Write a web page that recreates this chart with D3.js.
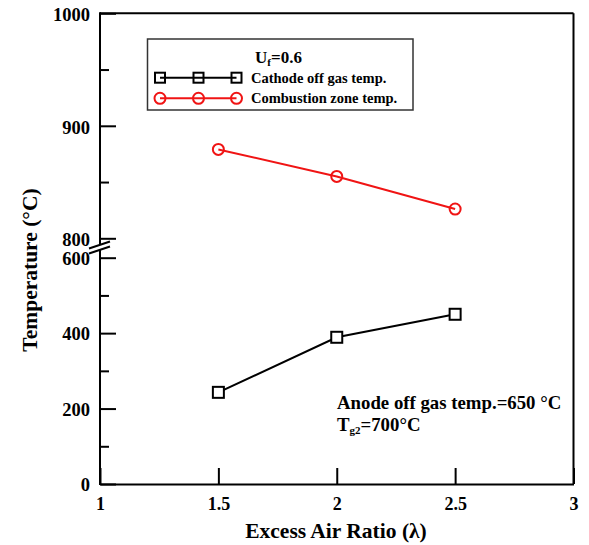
<!DOCTYPE html>
<html><head><meta charset="utf-8">
<script src="https://cdn.jsdelivr.net/npm/d3@7"></script>
<style>body{margin:0;background:#fff}svg{display:block}text{font-family:"Liberation Serif","Times New Roman",serif;font-weight:bold;fill:#000}</style>
</head><body>
<script>
const xValues = [1.5, 2.0, 2.5];
const cathodeTemp = [243, 389, 450];
const combustionTemp = [879, 855, 826];
const xTicks = [1, 1.5, 2, 2.5, 3];
const xTickLabels = ["1", "1.5", "2", "2.5", "3"];
const yUpperTicks = [800, 900, 1000];
const yUpperMinor = [850, 950];
const yLowerTicks = [0, 200, 400, 600];
const yLowerMinor = [100, 300, 500];

const W = 589, H = 545;
const svg = d3.select("body").append("svg").attr("width", W).attr("height", H);
const L = 100, R = 573.5, T = 13.3, B = 484;
const x = d3.scaleLinear().domain([1, 3]).range([L, R]);
const yU = d3.scaleLinear().domain([800, 1000]).range([238.3, T]);
const yL = d3.scaleLinear().domain([0, 600]).range([B, 257.7]);

const sw = 2;
// frame: top and right
svg.append("line").attr("x1", L).attr("x2", R).attr("y1", T).attr("y2", T).attr("stroke", "#000").attr("stroke-width", sw);
svg.append("line").attr("x1", R).attr("x2", R).attr("y1", T).attr("y2", B).attr("stroke", "#000").attr("stroke-width", sw);

// x axis
const xAxis = d3.axisBottom(x).tickValues(xTicks).tickFormat((d, i) => xTickLabels[i]).tickSizeInner(-16).tickSizeOuter(0).tickPadding(20);
const gx = svg.append("g").attr("transform", `translate(0,${B})`).call(xAxis);
gx.select(".domain").attr("stroke-width", sw).attr("stroke", "#000");
gx.selectAll(".tick line").attr("stroke-width", sw).attr("stroke", "#000");
gx.selectAll(".tick text").style("font-size", "18px").attr("dy", "0.35em");

// y upper axis
const gyU = svg.append("g").attr("transform", `translate(${L},0)`)
  .call(d3.axisLeft(yU).tickValues(yUpperTicks).tickFormat(d3.format("d")).tickSizeInner(-16).tickSizeOuter(0));
gyU.select(".domain").remove();
gyU.selectAll(".tick line").attr("stroke-width", sw).attr("stroke", "#000");
gyU.selectAll(".tick text").style("font-size", "18.5px").attr("x", -10).attr("text-anchor", "end").attr("dy", "0.4em");
svg.append("g").attr("transform", `translate(${L},0)`)
  .call(d3.axisLeft(yU).tickValues(yUpperMinor).tickFormat("").tickSizeInner(-9).tickSizeOuter(0))
  .call(g => g.select(".domain").remove())
  .selectAll(".tick line").attr("stroke-width", sw).attr("stroke", "#000");

// y lower axis
const gyL = svg.append("g").attr("transform", `translate(${L},0)`)
  .call(d3.axisLeft(yL).tickValues(yLowerTicks).tickFormat(d3.format("d")).tickSizeInner(-16).tickSizeOuter(0));
gyL.select(".domain").remove();
gyL.selectAll(".tick line").attr("stroke-width", sw).attr("stroke", "#000");
gyL.selectAll(".tick text").style("font-size", "18.5px").attr("x", -10).attr("text-anchor", "end").attr("dy", "0.35em");
svg.append("g").attr("transform", `translate(${L},0)`)
  .call(d3.axisLeft(yL).tickValues(yLowerMinor).tickFormat("").tickSizeInner(-9).tickSizeOuter(0))
  .call(g => g.select(".domain").remove())
  .selectAll(".tick line").attr("stroke-width", sw).attr("stroke", "#000");

// left axis line with break
svg.append("line").attr("x1", L).attr("x2", L).attr("y1", T - 1).attr("y2", 244).attr("stroke", "#000").attr("stroke-width", sw);
svg.append("line").attr("x1", L).attr("x2", L).attr("y1", 250).attr("y2", B + 1).attr("stroke", "#000").attr("stroke-width", sw);
svg.append("line").attr("x1", 89).attr("y1", 248.5).attr("x2", 110).attr("y2", 241.5).attr("stroke", "#000").attr("stroke-width", sw);
svg.append("line").attr("x1", 89).attr("y1", 253.5).attr("x2", 110).attr("y2", 246.5).attr("stroke", "#000").attr("stroke-width", sw);

// series
const lineU = d3.line().x((d, i) => x(xValues[i])).y(d => yU(d));
const lineL = d3.line().x((d, i) => x(xValues[i])).y(d => yL(d));
const red = "#f01414";
svg.append("path").attr("d", lineU(combustionTemp)).attr("fill", "none").attr("stroke", red).attr("stroke-width", 2);
svg.selectAll(".cm").data(combustionTemp).enter().append("circle")
  .attr("cx", (d, i) => x(xValues[i])).attr("cy", d => yU(d)).attr("r", 5.5)
  .attr("fill", "none").attr("stroke", red).attr("stroke-width", 2);
svg.append("path").attr("d", lineL(cathodeTemp)).attr("fill", "none").attr("stroke", "#000").attr("stroke-width", 2);
svg.selectAll(".sq").data(cathodeTemp).enter().append("rect")
  .attr("x", (d, i) => x(xValues[i]) - 5.5).attr("y", d => yL(d) - 5.5).attr("width", 11).attr("height", 11)
  .attr("fill", "#fff").attr("stroke", "#000").attr("stroke-width", 2);

// legend
const lg = svg.append("g");
lg.append("rect").attr("x", 147.5).attr("y", 39).attr("width", 265.5).attr("height", 71)
  .attr("fill", "#fff").attr("stroke", "#333").attr("stroke-width", 1.5);
const t1 = lg.append("text").attr("x", 255).attr("y", 63).style("font-size", "17px");
t1.append("tspan").text("U");
t1.append("tspan").text("f").style("font-size", "11px").attr("dy", 3);
t1.append("tspan").text("=0.6").attr("dy", -3);
const legendItems = [
  {label: "Cathode off gas temp.", color: "#000", shape: "rect", y: 77.7},
  {label: "Combustion zone temp.", color: red, shape: "circle", y: 98.3}
];
const lx = [160, 198.5, 236.5];
legendItems.forEach(it => {
  lg.append("line").attr("x1", lx[0]).attr("x2", lx[2]).attr("y1", it.y).attr("y2", it.y).attr("stroke", it.color).attr("stroke-width", 2);
  lx.forEach(px => {
    if (it.shape === "rect") lg.append("rect").attr("x", px - 5).attr("y", it.y - 5).attr("width", 10).attr("height", 10).attr("fill", "none").attr("stroke", it.color).attr("stroke-width", 2);
    else lg.append("circle").attr("cx", px).attr("cy", it.y).attr("r", 5.5).attr("fill", "none").attr("stroke", it.color).attr("stroke-width", 2);
  });
  lg.append("text").attr("x", 251).attr("y", it.y + 5).style("font-size", "14.5px").text(it.label);
});

// annotations
svg.append("text").attr("x", 337).attr("y", 409).style("font-size", "18.8px").text("Anode off gas temp.=650 \u00B0C");
const t2 = svg.append("text").attr("x", 337).attr("y", 431).style("font-size", "18.8px");
t2.append("tspan").text("T");
t2.append("tspan").text("g2").style("font-size", "11px").attr("dy", 3);
t2.append("tspan").text("=700\u00B0C").attr("dy", -3);

// axis titles
svg.append("text").attr("x", 336).attr("y", 538).attr("text-anchor", "middle").style("font-size", "21.5px").text("Excess Air Ratio (\u03BB)");
svg.append("text").attr("transform", "translate(37,270) rotate(-90)").attr("text-anchor", "middle").style("font-size", "21.5px").text("Temperature (\u00B0C)");
</script>
</body></html>
